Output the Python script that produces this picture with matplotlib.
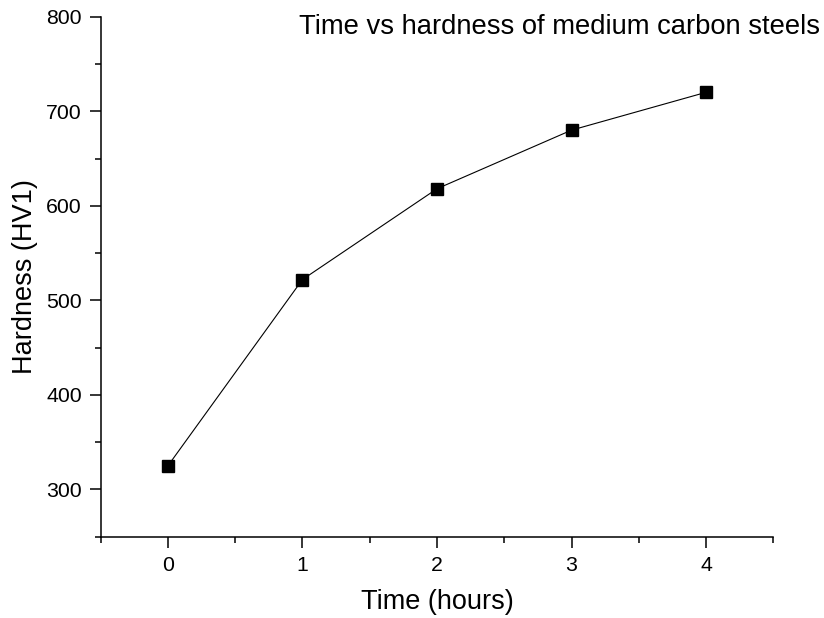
import matplotlib
matplotlib.use("Agg")
import matplotlib.pyplot as plt
from matplotlib.ticker import MultipleLocator

time_hours = [0, 1, 2, 3, 4]
hardness = [325, 522, 618, 680, 720]
x_ticks = [0, 1, 2, 3, 4]
y_ticks = [300, 400, 500, 600, 700, 800]

plt.rcParams['font.family'] = ['Liberation Sans', 'DejaVu Sans']

fig = plt.figure(figsize=(8.24, 6.18), dpi=100)
ax = fig.add_axes([0.1222, 0.1316, 0.8163, 0.8414])

ax.plot(time_hours, hardness, color='black', linewidth=0.8, marker='s',
        markersize=8.5, markerfacecolor='black', markeredgecolor='black')

ax.set_xlim(-0.5, 4.5)
ax.set_ylim(250, 800)
ax.set_xticks(x_ticks)
ax.set_yticks(y_ticks)
ax.xaxis.set_minor_locator(MultipleLocator(0.5))
ax.yaxis.set_minor_locator(MultipleLocator(50))

for s in ['top', 'right']:
    ax.spines[s].set_visible(False)
for s in ['left', 'bottom']:
    ax.spines[s].set_linewidth(1.1)

ax.tick_params(which='major', direction='out', length=7.7, width=1.1, labelsize=15.3, pad=6)
ax.tick_params(which='minor', direction='out', length=4.2, width=1.1)

ax.set_xlabel('Time (hours)', fontsize=19.5, labelpad=10)
ax.set_ylabel('Hardness (HV1)', fontsize=19.5, labelpad=6)

fig.text(0.995, 1 - 27 / 618, 'Time vs hardness of medium carbon steels',
         ha='right', va='center', fontsize=19.7)

fig.savefig('out.png', dpi=100)
